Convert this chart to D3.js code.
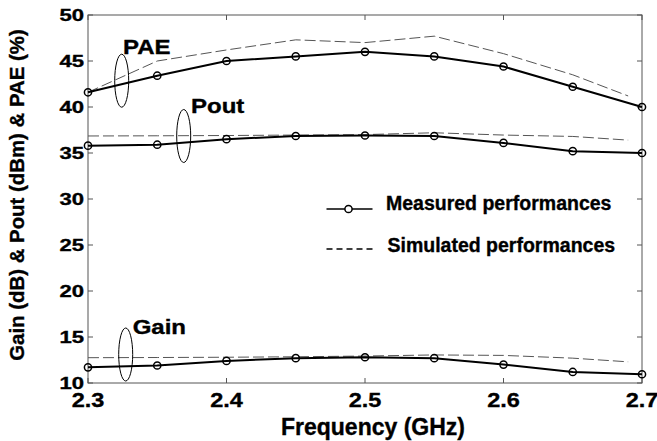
<!DOCTYPE html>
<html>
<head>
<meta charset="utf-8">
<script src="https://cdn.jsdelivr.net/npm/d3@7"></script>
<style>
  html, body { margin: 0; padding: 0; background: #fff; }
  svg { display: block; }
  text { font-family: "Liberation Sans", Arial, Helvetica, sans-serif; font-weight: bold; fill: #000;
         stroke: #000; stroke-width: 0.35px; }
</style>
</head>
<body>
<svg id="chart" width="657" height="441"></svg>
<script>
// Frequency grid (GHz)
const freqs = [2.3, 2.35, 2.4, 2.45, 2.5, 2.55, 2.6, 2.65, 2.7];
const simFreqs = [2.3, 2.35, 2.4, 2.45, 2.5, 2.55, 2.6, 2.65, 2.69];

// Measured performances
const paeMeas  = [41.6, 43.4, 45.0, 45.5, 46.0, 45.5, 44.4, 42.2, 40.0];
const poutMeas = [35.8, 35.9, 36.5, 36.85, 36.9, 36.85, 36.1, 35.2, 35.0];
const gainMeas = [11.7, 11.9, 12.4, 12.7, 12.8, 12.7, 12.0, 11.2, 10.95];

// Simulated performances
const paeSim  = [41.6, 45.0, 46.2, 47.3, 47.0, 47.7, 45.8, 43.5, 41.2];
const poutSim = [36.85, 36.87, 36.9, 36.95, 37.0, 37.2, 36.95, 36.8, 36.4];
const gainSim = [12.75, 12.77, 12.8, 12.85, 12.93, 13.05, 13.0, 12.7, 12.3];

// Axis ticks
const xTicks = [2.3, 2.4, 2.5, 2.6, 2.7];
const yTicks = [10, 15, 20, 25, 30, 35, 40, 45, 50];

const svg = d3.select("#chart");
const plotL = 88, plotR = 642, plotT = 15, plotB = 383;

const x = d3.scaleLinear().domain([2.3, 2.7]).range([plotL, plotR]);
const y = d3.scaleLinear().domain([10, 50]).range([plotB, plotT]);

const axisColor = "#555";
const tickLen = 5;

// Plot box
svg.append("rect")
  .attr("x", plotL).attr("y", plotT)
  .attr("width", plotR - plotL).attr("height", plotB - plotT)
  .attr("fill", "none").attr("stroke", axisColor).attr("stroke-width", 1);

// Inward ticks on all four sides
const tickG = svg.append("g").attr("stroke", axisColor).attr("stroke-width", 1);
xTicks.forEach(t => {
  tickG.append("line").attr("x1", x(t)).attr("x2", x(t)).attr("y1", plotB).attr("y2", plotB - tickLen);
  tickG.append("line").attr("x1", x(t)).attr("x2", x(t)).attr("y1", plotT).attr("y2", plotT + tickLen);
});
yTicks.forEach(t => {
  tickG.append("line").attr("x1", plotL).attr("x2", plotL + tickLen).attr("y1", y(t)).attr("y2", y(t));
  tickG.append("line").attr("x1", plotR).attr("x2", plotR - tickLen).attr("y1", y(t)).attr("y2", y(t));
});

// Tick labels
xTicks.forEach(t => {
  svg.append("text")
    .attr("transform", `translate(${x(t)},407) scale(1.12,1)`)
    .attr("text-anchor", "middle")
    .style("font-size", "21px")
    .text(d3.format(".1f")(t));
});
yTicks.forEach(t => {
  svg.append("text")
    .attr("transform", `translate(84,${y(t) + 5.5}) scale(1.3,1)`)
    .attr("text-anchor", "end")
    .style("font-size", "17px")
    .text(t);
});

// Axis titles
svg.append("text")
  .attr("x", 373).attr("y", 435)
  .attr("text-anchor", "middle")
  .style("font-size", "23px")
  .text("Frequency (GHz)");

svg.append("text")
  .attr("transform", "translate(23.5,195) rotate(-90)")
  .attr("text-anchor", "middle")
  .style("font-size", "20.4px")
  .text("Gain (dB) & Pout (dBm) & PAE (%)");

// Series
const line = d3.line().x(d => x(d[0])).y(d => y(d[1]));
const zip = (xs, ys) => xs.map((v, i) => [v, ys[i]]);

const simSeries = [paeSim, poutSim, gainSim];
simSeries.forEach(vals => {
  svg.append("path")
    .datum(zip(simFreqs, vals))
    .attr("d", line)
    .attr("fill", "none")
    .attr("stroke", "#555")
    .attr("stroke-width", 1)
    .attr("stroke-dasharray", "11,4");
});

const measSeries = [paeMeas, poutMeas, gainMeas];
measSeries.forEach(vals => {
  const pts = zip(freqs, vals);
  svg.append("path")
    .datum(pts)
    .attr("d", line)
    .attr("fill", "none")
    .attr("stroke", "#000")
    .attr("stroke-width", 2);
  svg.append("g").selectAll("circle")
    .data(pts)
    .join("circle")
    .attr("cx", d => x(d[0]))
    .attr("cy", d => y(d[1]))
    .attr("r", 3.6)
    .attr("fill", "none")
    .attr("stroke", "#000")
    .attr("stroke-width", 1.5);
});

// Series annotations with ellipses
const notes = [
  { label: "PAE",  ex: 121.7, ey: 80.7,  tx: 123,   ty: 53.5 },
  { label: "Pout", ex: 183.7, ey: 136,   tx: 191,   ty: 112.5 },
  { label: "Gain", ex: 125.7, ey: 354.5, tx: 132.7, ty: 334 }
];
notes.forEach(n => {
  svg.append("ellipse")
    .attr("cx", n.ex).attr("cy", n.ey)
    .attr("rx", 7).attr("ry", 26.5)
    .attr("fill", "none").attr("stroke", "#000").attr("stroke-width", 1);
  svg.append("text")
    .attr("transform", `translate(${n.tx},${n.ty}) scale(1.2,1)`)
    .style("font-size", "20px")
    .text(n.label);
});

// Legend
const lg = svg.append("g");
lg.append("line")
  .attr("x1", 326.5).attr("x2", 372.5).attr("y1", 209).attr("y2", 209)
  .attr("stroke", "#000").attr("stroke-width", 1.5);
lg.append("circle")
  .attr("cx", 348.5).attr("cy", 209).attr("r", 3.6)
  .attr("fill", "#fff").attr("stroke", "#000").attr("stroke-width", 1.5);
lg.append("text")
  .attr("x", 386).attr("y", 210)
  .style("font-size", "19.5px")
  .text("Measured performances");

lg.append("line")
  .attr("x1", 326.5).attr("x2", 372.5).attr("y1", 249).attr("y2", 249)
  .attr("stroke", "#000").attr("stroke-width", 1.3)
  .attr("stroke-dasharray", "6,4");
lg.append("text")
  .attr("x", 387.5).attr("y", 252)
  .style("font-size", "19.5px")
  .text("Simulated performances");
</script>
</body>
</html>
